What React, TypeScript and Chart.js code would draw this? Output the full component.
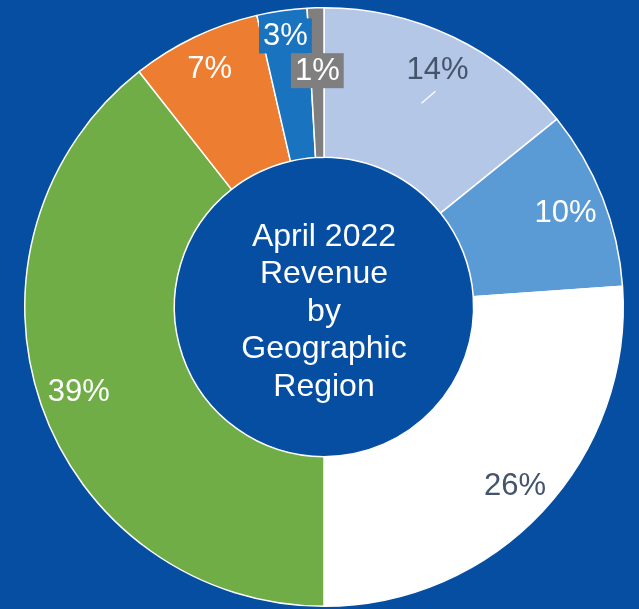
import React, { useEffect, useRef } from "react";
import { Chart, registerables } from "chart.js";

Chart.register(...registerables);

const regions = ["Region A", "Region B", "Region C", "Region D", "Region E", "Region F", "Region G"];
const shares = [14.2, 9.7, 26.1, 39.4, 7.0, 2.7, 0.9];
const labels = ["14%", "10%", "26%", "39%", "7%", "3%", "1%"];
const centerLines = ["April 2022", "Revenue", "by", "Geographic", "Region"];

const sliceColors = ["#B4C7E7", "#5B9BD5", "#FFFFFF", "#70AD47", "#ED7D31", "#1A73BE", "#7F7F7F"];
const labelColors = ["#44546A", "#FFFFFF", "#44546A", "#FFFFFF", "#FFFFFF", "#FFFFFF", "#FFFFFF"];
const labelBoxed = [false, false, false, false, false, true, true];
const labelRadius = [0.88, 0.867, 0.873, 0.867, 0.885, 0.915, 0.79];
const BG = "#054EA2";

const labelPlugin = {
  id: "sliceLabels",
  afterDatasetsDraw(chart: any) {
    const ctx = chart.ctx;
    const meta = chart.getDatasetMeta(0);
    ctx.save();
    const first = meta.data[0];
    const cx = first.x;
    const cy = first.y;
    ctx.font = '32px "Liberation Sans", Arial, sans-serif';
    ctx.textAlign = "center";
    ctx.textBaseline = "middle";
    ctx.fillStyle = "#FFFFFF";
    const lh = 37.5;
    centerLines.forEach((line, i) => {
      ctx.fillText(line, cx, cy + 5 + (i - (centerLines.length - 1) / 2) * lh);
    });
    ctx.font = '31px "Liberation Sans", Arial, sans-serif';
    meta.data.forEach((arc: any, i: number) => {
      const mid = (arc.startAngle + arc.endAngle) / 2;
      const R = arc.outerRadius;
      const r = R * labelRadius[i];
      const x = arc.x + Math.cos(mid) * r;
      const y = arc.y + Math.sin(mid) * r;
      const text = labels[i];
      const w = ctx.measureText(text).width;
      if (labelBoxed[i]) {
        ctx.fillStyle = sliceColors[i];
        ctx.fillRect(x - w / 2 - 4, y - 17.5, w + 8, 35);
      }
      if (i === 0) {
        const sr = R * 0.755;
        const sx = arc.x + Math.cos(mid) * sr;
        const sy = arc.y + Math.sin(mid) * sr;
        ctx.strokeStyle = "#FFFFFF";
        ctx.lineWidth = 1.2;
        ctx.beginPath();
        ctx.moveTo(sx, sy);
        ctx.lineTo(sx + 14, sy - 12);
        ctx.stroke();
      }
      ctx.fillStyle = labelColors[i];
      ctx.fillText(text, x, y + 1);
    });
    ctx.restore();
  },
};

export default function App() {
  const ref = useRef<HTMLCanvasElement | null>(null);
  useEffect(() => {
    document.body.style.margin = "0";
    const chart = new Chart(ref.current as HTMLCanvasElement, {
      type: "doughnut",
      data: {
        labels: regions,
        datasets: [
          {
            data: shares,
            backgroundColor: sliceColors,
            borderColor: "#FFFFFF",
            borderWidth: 1.5,
          },
        ],
      },
      options: {
        animation: false,
        responsive: false,
        cutout: "50%",
        layout: { padding: { left: 24, right: 15, top: 7, bottom: 2 } },
        plugins: { legend: { display: false }, tooltip: { enabled: false } },
      },
      plugins: [labelPlugin],
    });
    return () => chart.destroy();
  }, []);
  return (
    <div style={{ position: "fixed", left: 0, top: 0, width: 639, height: 609, background: BG }}>
      <canvas ref={ref} width={639} height={609} style={{ display: "block" }} />
    </div>
  );
}
